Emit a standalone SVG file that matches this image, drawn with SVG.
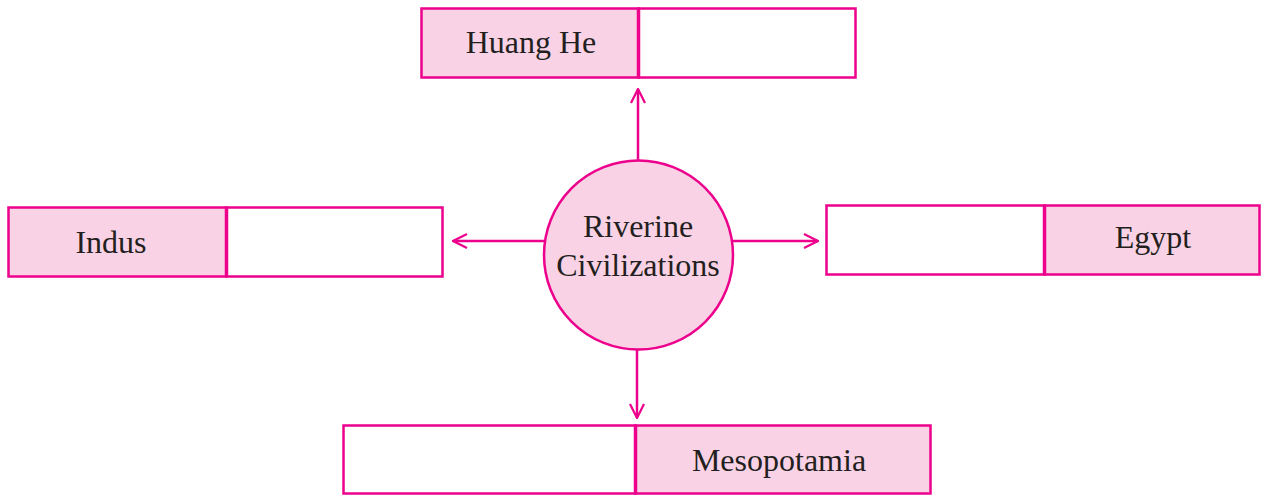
<svg xmlns="http://www.w3.org/2000/svg" width="1261" height="495" viewBox="0 0 1261 495">
<style>
.b{fill:#fff;stroke:#EC008C;stroke-width:2.5}
.f{fill:#F9D3E5;stroke:#EC008C;stroke-width:2.5}
.d{stroke:#EC008C;stroke-width:3.5}
.t{font-family:"Liberation Serif","Times New Roman",serif;font-size:32px;fill:#231F20;text-anchor:middle}
.c{fill:none;stroke:#EC008C;stroke-width:2.5}
</style>
<defs>
<marker id="a" viewBox="0 0 16 16" refX="15" refY="8" markerWidth="16" markerHeight="16" markerUnits="userSpaceOnUse" orient="auto">
<path d="M1,1 L15,8 L1,15" fill="none" stroke="#EC008C" stroke-width="2.2"/>
</marker>
</defs>
<g id="connectors">
<line class="c" x1="638" y1="160" x2="638" y2="89" marker-end="url(#a)"/>
<line class="c" x1="544" y1="241" x2="453" y2="241" marker-end="url(#a)"/>
<line class="c" x1="733" y1="241" x2="818" y2="241" marker-end="url(#a)"/>
<line class="c" x1="637" y1="350" x2="637" y2="418" marker-end="url(#a)"/>
</g>
<g id="huanghe">
<rect class="f" x="421.5" y="8.5" width="217" height="69"/>
<rect class="b" x="638.5" y="8.5" width="217" height="69"/>
<line class="d" x1="638.5" y1="8" x2="638.5" y2="78"/>
<text class="t" x="531" y="53">Huang He</text>
</g>
<g id="indus">
<rect class="f" x="8.5" y="207.5" width="218" height="69"/>
<rect class="b" x="226.5" y="207.5" width="216" height="69"/>
<line class="d" x1="226.5" y1="207" x2="226.5" y2="277"/>
<text class="t" x="111" y="253">Indus</text>
</g>
<g id="egypt">
<rect class="b" x="826.5" y="205.5" width="218" height="69"/>
<rect class="f" x="1044.5" y="205.5" width="215" height="69"/>
<line class="d" x1="1044.5" y1="205" x2="1044.5" y2="275"/>
<text class="t" x="1153" y="248">Egypt</text>
</g>
<g id="mesopotamia">
<rect class="b" x="343.5" y="425.5" width="292" height="68"/>
<rect class="f" x="635.5" y="425.5" width="295" height="68"/>
<line class="d" x1="635.5" y1="425" x2="635.5" y2="494"/>
<text class="t" x="779" y="471">Mesopotamia</text>
</g>
<g id="center">
<circle class="f" cx="638.5" cy="255" r="94.5"/>
<text class="t" x="638" y="237">Riverine</text>
<text class="t" x="638" y="276">Civilizations</text>
</g>
</svg>
